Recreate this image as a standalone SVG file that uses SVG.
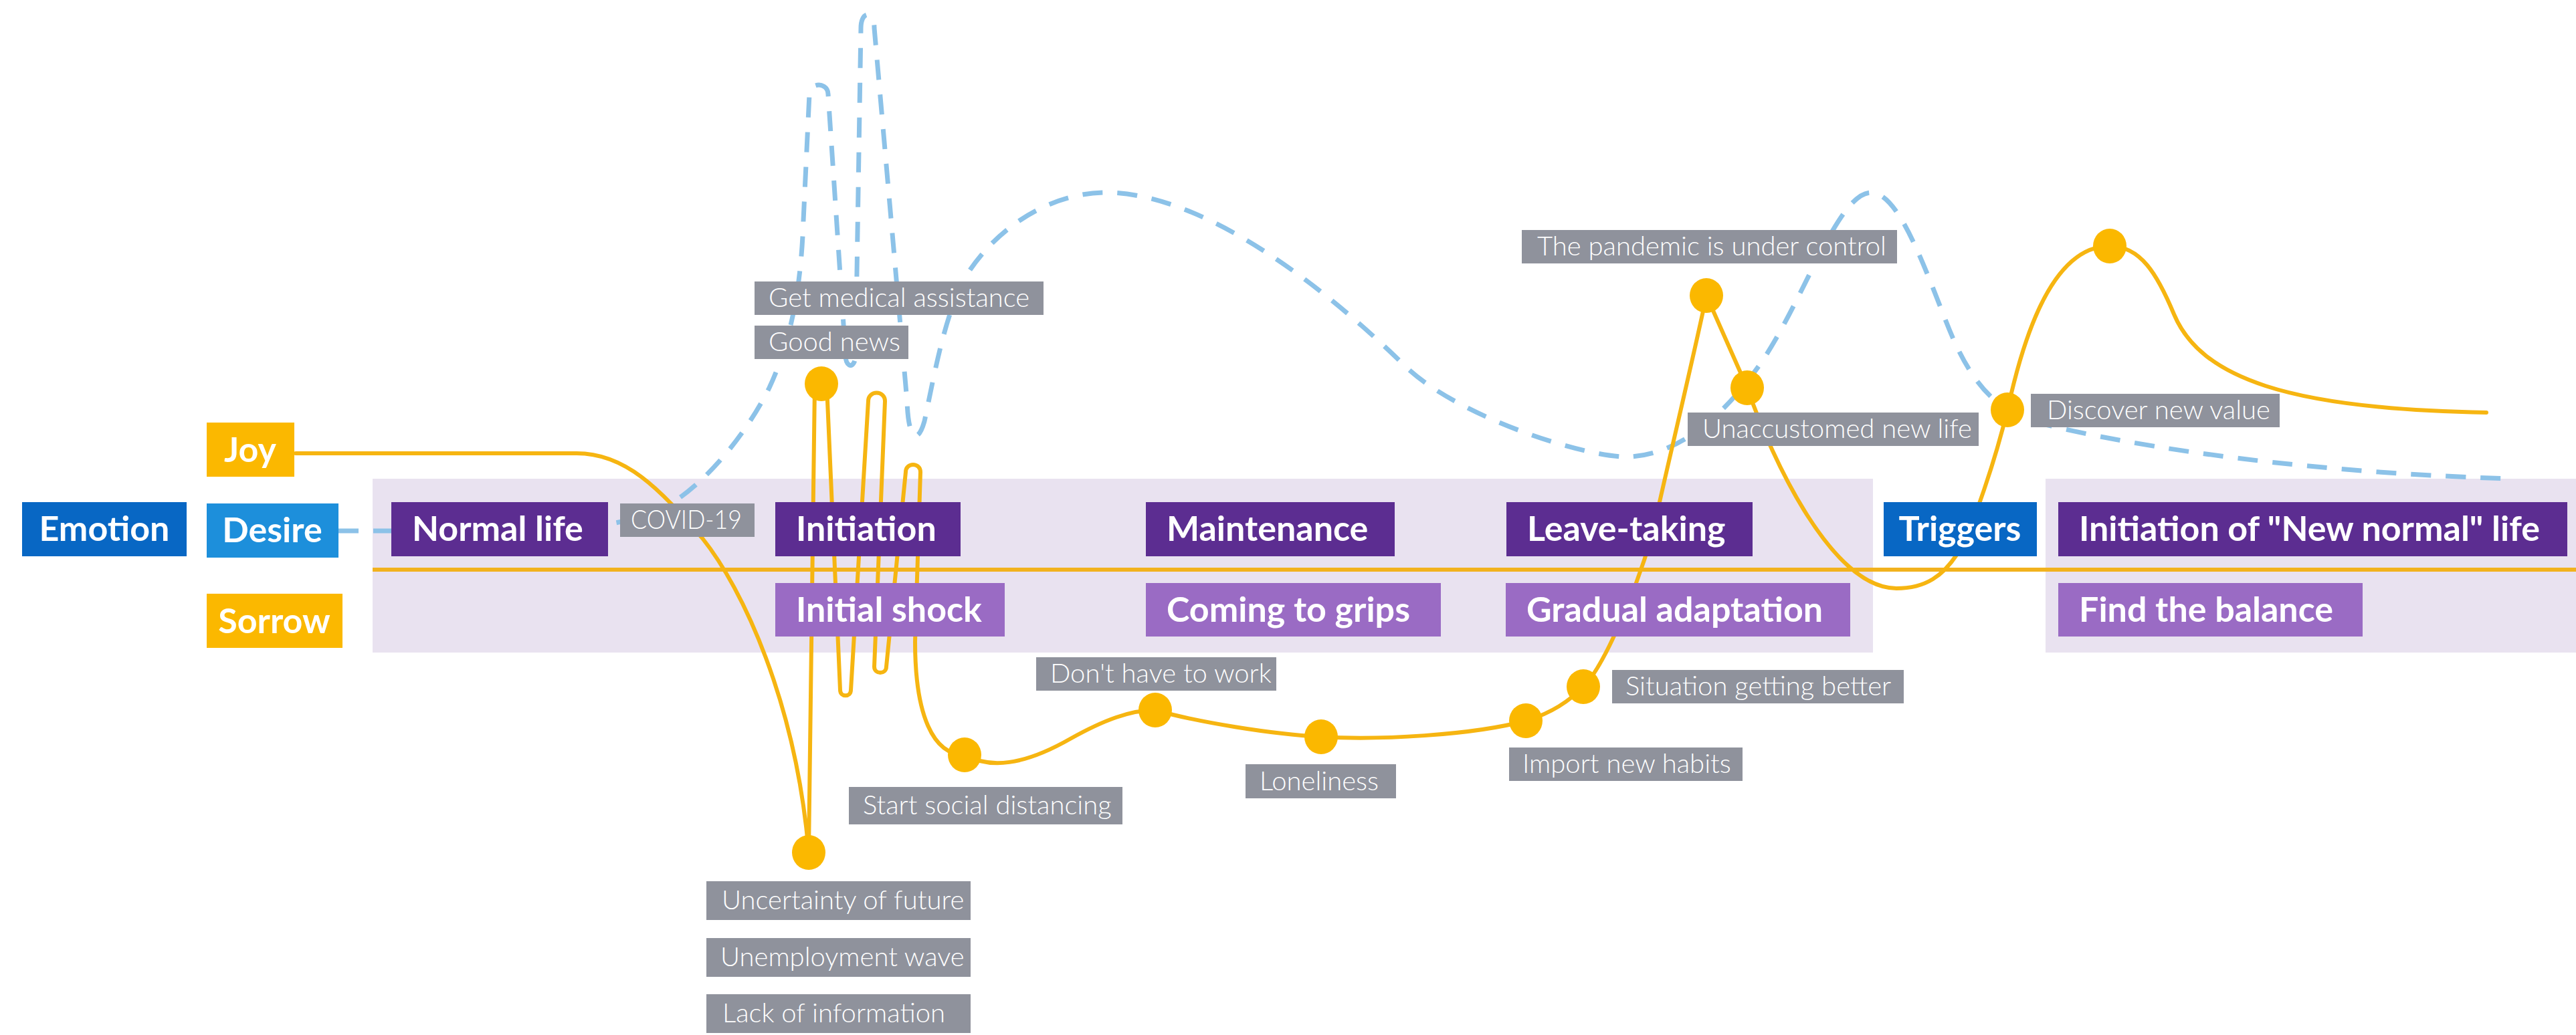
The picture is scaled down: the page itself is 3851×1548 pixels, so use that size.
<svg xmlns="http://www.w3.org/2000/svg" width="3851" height="1548" viewBox="0 0 3851 1548">
  <style>
    .band { fill: #E9E2F0; }
    .phase { fill: #5C2D91; }
    .sub { fill: #9A6BC4; }
    .tag { fill: #8F929C; }
    .blue { fill: #0867C4; }
    .sky { fill: #1D8FDB; }
    .sun { fill: #FBB800; }
    .bt { font-family: Lato, "Liberation Sans", sans-serif; font-weight: 700; font-size: 52px; fill: #FFFFFF; }
    .lt { font-family: Lato, "Liberation Sans", sans-serif; font-weight: 300; font-size: 40px; fill: #FFFFFF; }
    .mood { fill: none; stroke: #F6B511; stroke-width: 6; stroke-linejoin: round; stroke-linecap: round; }
    .axis { fill: none; stroke: #F2B21E; stroke-width: 6; }
    .wish { fill: none; stroke: #8CC2E8; stroke-width: 7; stroke-dasharray: 30 22; }
    .dot { fill: #FBB800; }
  </style>

  <rect x="0" y="0" width="3851" height="1548" fill="#FFFFFF"/>

  <!-- phase bands -->
  <g id="bands">
    <rect class="band" x="557" y="716" width="2243" height="260"/>
    <rect class="band" x="3058" y="716" width="793" height="260"/>
  </g>

  <!-- curves: neutral axis, desire (dashed), emotion (solid) and its points -->
  <g id="connectors">
    <line class="axis" x1="557" y1="852" x2="3851" y2="852"/>
    <path class="wish" d="M506,794 H760 C860,794 930,785 980,765 C1040,740 1110,660 1150,580 C1185,505 1198,420 1201,330 L1210,141 C1210,122.4 1238,122.4 1238,141 L1264,530 C1264,552 1279,552 1279,530 L1287,42 C1287,15.3 1307,15.3 1307,42 L1356,600 C1358,660 1372,665 1382,630 C1395,570 1410,480 1440,420 C1480,350 1560,290 1650,288 C1780,286 1950,400 2100,547 C2180,625 2380,688 2440,683 C2500,678 2560,640 2620,560 C2690,470 2745,288 2797,288 C2835,288 2870,380 2905,470 C2930,535 2960,600 3030,628 C3150,660 3400,705 3752,716"/>
    <path class="mood" d="M442,678 H862 C935,678 985,730 1050,805 C1110,880 1190,1050 1209,1275 L1218,577 C1218,565 1236,565 1236,577 L1256,1032 C1256,1043 1272,1043 1272,1032 L1298,600 C1298,583.4 1323,583.4 1323,600 L1307,997 C1307,1009 1325,1009 1325,997 L1354,706 C1354,691.3 1376,691.3 1376,706 L1368,960 C1368,1070 1395,1129 1442,1129 C1480,1150 1530,1145 1600,1105 C1650,1077 1690,1062 1727,1062 C1790,1080 1900,1098 1975,1102 C2060,1107 2200,1100 2281,1078 C2315,1068 2345,1050 2367,1027 C2395,1000 2440,900 2470,800 C2485,730 2535,520 2551,442 L2612,580 C2650,690 2740,880 2835,880 C2880,880 2905,860 2925,830 C2950,790 2985,680 3001,613 C3020,530 3060,368 3154,368 C3200,368 3225,410 3250,470 C3290,565 3420,612 3717,617"/>
    <g id="points">
      <ellipse class="dot" cx="1209" cy="1275" rx="25" ry="26"/>
      <ellipse class="dot" cx="1228" cy="574" rx="25" ry="26"/>
      <ellipse class="dot" cx="1442" cy="1129" rx="25" ry="26"/>
      <ellipse class="dot" cx="1727" cy="1062" rx="25" ry="26"/>
      <ellipse class="dot" cx="1975" cy="1102" rx="25" ry="26"/>
      <ellipse class="dot" cx="2281" cy="1078" rx="25" ry="26"/>
      <ellipse class="dot" cx="2367" cy="1027" rx="25" ry="26"/>
      <ellipse class="dot" cx="2551" cy="442" rx="25" ry="26"/>
      <ellipse class="dot" cx="2612" cy="580" rx="25" ry="26"/>
      <ellipse class="dot" cx="3001" cy="613" rx="25" ry="26"/>
      <ellipse class="dot" cx="3154" cy="368" rx="25" ry="26"/>
    </g>
  </g>

  <!-- legend -->
  <g id="node-emotion"><rect class="blue" x="33" y="751" width="246" height="81"/><text class="bt" x="156" y="809" text-anchor="middle">Emotion</text></g>
  <g id="node-joy"><rect class="sun" x="309" y="632" width="131" height="81"/><text class="bt" x="374" y="691" text-anchor="middle">Joy</text></g>
  <g id="node-desire"><rect class="sky" x="309" y="753" width="197" height="81"/><text class="bt" x="407" y="811" text-anchor="middle">Desire</text></g>
  <g id="node-sorrow"><rect class="sun" x="309" y="888" width="203" height="81"/><text class="bt" x="410" y="947" text-anchor="middle">Sorrow</text></g>

  <!-- phases -->
  <g id="node-normal-life"><rect class="phase" x="585" y="751" width="324" height="81"/><text class="bt" x="616" y="809">Normal life</text></g>
  <g id="node-initiation"><rect class="phase" x="1159" y="751" width="277" height="81"/><text class="bt" x="1190" y="809">Initiation</text></g>
  <g id="node-maintenance"><rect class="phase" x="1713" y="751" width="372" height="81"/><text class="bt" x="1744" y="809">Maintenance</text></g>
  <g id="node-leave-taking"><rect class="phase" x="2252" y="751" width="368" height="81"/><text class="bt" x="2283" y="809">Leave-taking</text></g>
  <g id="node-triggers"><rect class="blue" x="2816" y="751" width="229" height="81"/><text class="bt" x="2930" y="809" text-anchor="middle">Triggers</text></g>
  <g id="node-new-normal"><rect class="phase" x="3077" y="751" width="761" height="81"/><text class="bt" x="3108" y="809">Initiation of "New normal" life</text></g>

  <g id="node-initial-shock"><rect class="sub" x="1159" y="872" width="343" height="80"/><text class="bt" x="1190" y="930">Initial shock</text></g>
  <g id="node-coming-to-grips"><rect class="sub" x="1713" y="872" width="441" height="80"/><text class="bt" x="1744" y="930">Coming to grips</text></g>
  <g id="node-gradual-adaptation"><rect class="sub" x="2251" y="872" width="515" height="80"/><text class="bt" x="2282" y="930">Gradual adaptation</text></g>
  <g id="node-find-balance"><rect class="sub" x="3077" y="872" width="455" height="80"/><text class="bt" x="3108" y="930">Find the balance</text></g>

  <!-- event tags -->
  <g id="node-covid"><rect class="tag" x="927" y="753" width="201" height="50"/><text class="lt" x="943" y="791" textLength="166" lengthAdjust="spacingAndGlyphs">COVID-19</text></g>
  <g id="node-medical"><rect class="tag" x="1128" y="421" width="432" height="50"/><text class="lt" x="1149" y="459">Get medical assistance</text></g>
  <g id="node-good-news"><rect class="tag" x="1128" y="487" width="230" height="50"/><text class="lt" x="1149" y="525">Good news</text></g>
  <g id="node-no-work"><rect class="tag" x="1549" y="983" width="359" height="50"/><text class="lt" x="1570" y="1021">Don't have to work</text></g>
  <g id="node-distancing"><rect class="tag" x="1269" y="1177" width="409" height="56"/><text class="lt" x="1290" y="1218">Start social distancing</text></g>
  <g id="node-uncertainty"><rect class="tag" x="1056" y="1318" width="395" height="58"/><text class="lt" x="1079" y="1360">Uncertainty of future</text></g>
  <g id="node-unemployment"><rect class="tag" x="1056" y="1403" width="395" height="58"/><text class="lt" x="1077" y="1445">Unemployment wave</text></g>
  <g id="node-lack-info"><rect class="tag" x="1056" y="1487" width="395" height="58"/><text class="lt" x="1080" y="1529">Lack of information</text></g>
  <g id="node-loneliness"><rect class="tag" x="1862" y="1143" width="225" height="51"/><text class="lt" x="1883" y="1182">Loneliness</text></g>
  <g id="node-new-habits"><rect class="tag" x="2256" y="1118" width="349" height="50"/><text class="lt" x="2276" y="1156">Import new habits</text></g>
  <g id="node-getting-better"><rect class="tag" x="2410" y="1002" width="436" height="50"/><text class="lt" x="2430" y="1040">Situation getting better</text></g>
  <g id="node-under-control"><rect class="tag" x="2275" y="344" width="561" height="50"/><text class="lt" x="2298" y="382">The pandemic is under control</text></g>
  <g id="node-unaccustomed"><rect class="tag" x="2523" y="617" width="435" height="50"/><text class="lt" x="2545" y="655">Unaccustomed new life</text></g>
  <g id="node-new-value"><rect class="tag" x="3036" y="589" width="372" height="50"/><text class="lt" x="3060" y="627">Discover new value</text></g>
</svg>
